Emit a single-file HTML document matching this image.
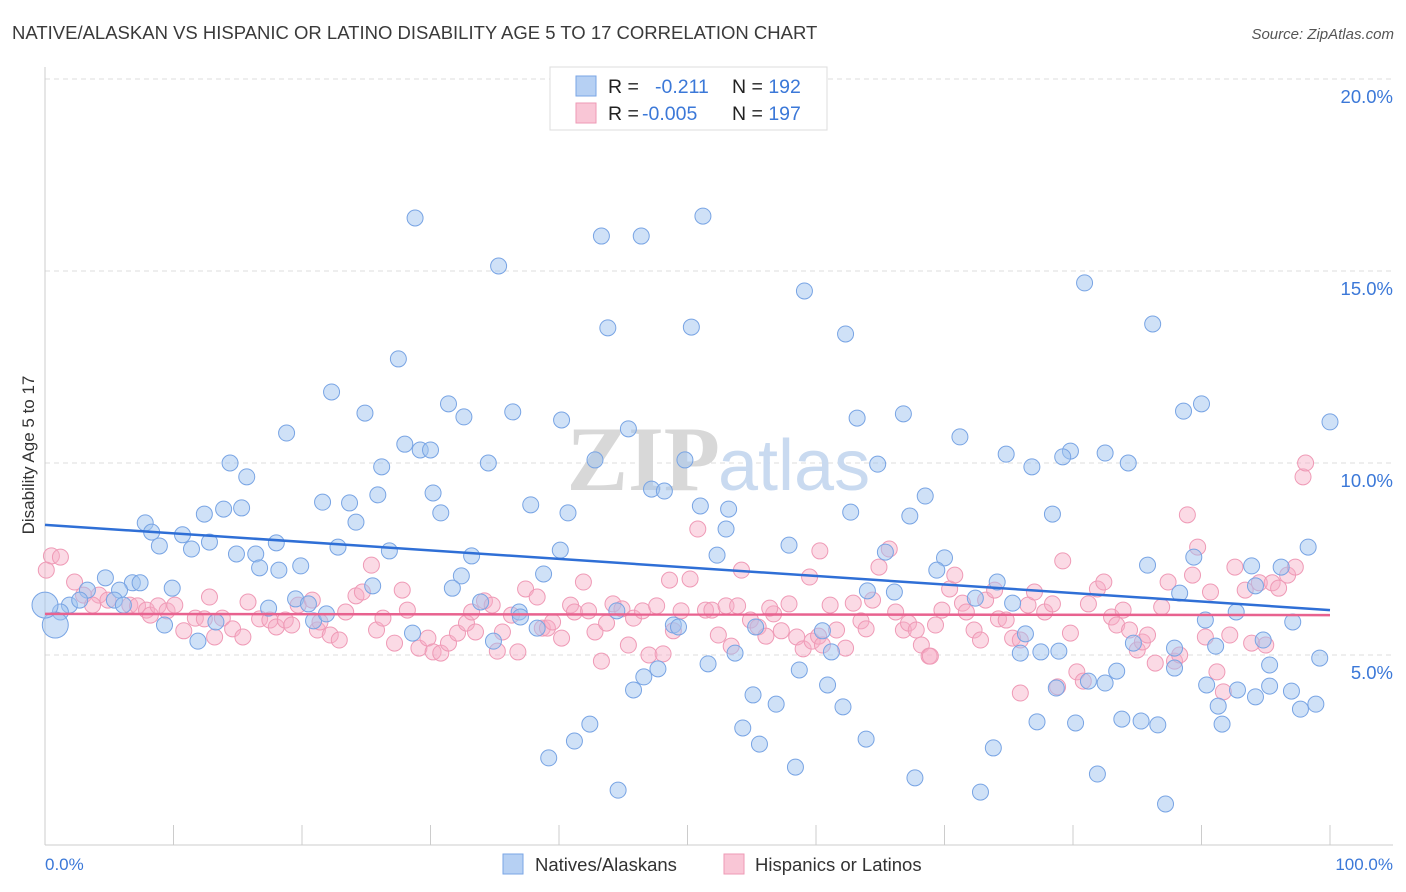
<!DOCTYPE html>
<html><head><meta charset="utf-8"><style>
body{margin:0;background:#fff;font-family:"Liberation Sans",sans-serif;}
svg{display:block}
</style></head><body>
<svg id="chart" width="1406" height="892">
<text x="12" y="39" font-size="18.5" fill="#3a3a3a">NATIVE/ALASKAN VS HISPANIC OR LATINO DISABILITY AGE 5 TO 17 CORRELATION CHART</text>
<text x="1394" y="39" font-size="15" fill="#555" font-style="italic" text-anchor="end">Source: ZipAtlas.com</text>
<g id="grid"></g>
<text x="720" y="490" font-size="92" fill="#d8d8d8" text-anchor="end" font-family="Liberation Serif,serif" font-weight="bold">ZIP</text>
<text x="718" y="490" font-size="72" fill="#c9daf0">atlas</text>
<line x1="45" y1="67" x2="45" y2="845" stroke="#ccc"/>
<line x1="45" y1="845" x2="1393" y2="845" stroke="#ccc"/>
<g id="ticks"></g>
<g id="pink"></g>
<g id="blue"></g>
<g id="trends"></g>
<text x="34" y="455" font-size="17" fill="#333" text-anchor="middle" transform="rotate(-90 34 455)">Disability Age 5 to 17</text>
<text x="45" y="870" font-size="17" fill="#3b78d8">0.0%</text>
<text x="1393" y="870" font-size="17" fill="#3b78d8" text-anchor="end">100.0%</text>
<g>
<rect x="550" y="67" width="277" height="63" fill="#fff" stroke="#ddd"/>
<rect x="576" y="76" width="20" height="20" fill="#b6d0f3" stroke="#7aa6e6"/>
<rect x="576" y="103" width="20" height="20" fill="#f9c6d6" stroke="#ee9ab5"/>
<text x="608" y="93" font-size="19.5" fill="#222">R = <tspan x="655" fill="#3b78d8">-0.211</tspan><tspan x="732" fill="#222">N = </tspan><tspan fill="#3b78d8">192</tspan></text>
<text x="608" y="120" font-size="19.5" fill="#222">R = <tspan x="642" fill="#3b78d8">-0.005</tspan><tspan x="732" fill="#222">N = </tspan><tspan fill="#3b78d8">197</tspan></text>
</g>
<g>
<rect x="503" y="854" width="20" height="20" fill="#b6d0f3" stroke="#7aa6e6"/>
<text x="535" y="871" font-size="18.5" fill="#333">Natives/Alaskans</text>
<rect x="724" y="854" width="20" height="20" fill="#f9c6d6" stroke="#ee9ab5"/>
<text x="755" y="871" font-size="18.5" fill="#333">Hispanics or Latinos</text>
</g>
</svg>
<script>
const yTicks=[5,10,15,20];
const yTickLabels=["5.0%","10.0%","15.0%","20.0%"];
const xTicks=[0,10,20,30,40,50,60,70,80,90,100];
const blueX=[28.8,51.2,43.3,46.4,35.3,59.1,80.9,43.8,50.3,62.3,86.2,27.5,22.3,31.4,24.9,32.6,36.4,40.2,63.2,66.8,90.0,88.6,100,18.8,45.4,28.0,29.2,30.0,71.2,74.8,79.8,82.5,76.8,84.3,79.2,42.8,49.8,34.5,14.4,26.2,15.7,64.8,30.2,47.2,48.2,25.9,21.6,23.7,37.8,51.0,53.2,68.5,13.9,15.3,12.4,30.8,40.7,62.7,67.3,78.4,24.2,7.8,8.3,10.7,12.8,8.9,11.4,53.0,22.8,26.8,18.0,14.9,16.4,33.2,40.1,52.3,57.9,65.4,70.0,89.4,98.3,85.8,93.9,96.2,16.7,18.2,19.9,69.4,32.4,38.8,4.7,6.8,7.4,5.8,9.9,25.5,31.7,64.0,66.1,72.4,74.1,75.3,88.3,94.2,3.3,1.9,1.2,2.7,0.8,0.0,5.4,6.1,17.4,19.5,20.5,33.9,36.9,37.0,44.5,92.7,90.3,97.1,9.3,13.3,20.9,21.9,38.3,48.9,49.3,55.3,60.5,76.3,11.9,28.6,34.9,78.9,84.7,87.9,91.1,94.8,99.2,53.7,61.2,77.5,75.9,95.3,87.9,47.7,51.6,58.7,46.6,83.4,82.5,90.4,92.8,95.3,97.0,78.7,81.2,45.8,60.9,55.1,56.9,62.1,91.3,94.2,97.7,98.9,42.4,54.3,77.2,80.2,83.8,85.3,86.6,91.6,41.2,55.6,63.9,73.8,39.2,58.4,81.9,67.7,44.6,72.8,87.2];
const blueY=[16.38,16.43,15.91,15.91,15.13,14.48,14.69,13.52,13.54,13.36,13.62,12.71,11.85,11.54,11.30,11.20,11.33,11.12,11.17,11.28,11.54,11.35,11.07,10.78,10.89,10.49,10.34,10.34,10.68,10.23,10.31,10.26,9.90,10.00,10.16,10.08,10.08,10.00,10.00,9.90,9.64,9.97,9.22,9.32,9.27,9.17,8.98,8.96,8.91,8.88,8.80,9.14,8.80,8.83,8.67,8.70,8.70,8.72,8.62,8.67,8.46,8.44,8.20,8.13,7.94,7.84,7.76,8.28,7.81,7.71,7.92,7.63,7.63,7.58,7.73,7.60,7.86,7.68,7.53,7.55,7.81,7.34,7.32,7.29,7.27,7.21,7.32,7.21,7.06,7.11,7.01,6.88,6.88,6.69,6.74,6.80,6.74,6.67,6.64,6.48,6.90,6.35,6.61,6.80,6.69,6.30,6.12,6.43,5.78,6.30,6.43,6.30,6.22,6.46,6.33,6.38,6.12,5.99,6.15,6.12,5.91,5.86,5.78,5.86,5.89,6.07,5.70,5.78,5.73,5.73,5.63,5.55,5.36,5.57,5.36,5.10,5.31,5.18,5.23,5.39,4.92,5.05,5.08,5.08,5.05,4.74,4.66,4.64,4.77,4.61,4.43,4.58,4.27,4.22,4.09,4.19,4.06,4.14,4.32,4.09,4.22,3.96,3.72,3.65,3.67,3.91,3.59,3.72,3.20,3.10,3.26,3.23,3.33,3.28,3.18,3.20,2.76,2.68,2.81,2.58,2.32,2.08,1.90,1.80,1.48,1.43,1.12];
const pinkX=[0.5,1.2,0.1,2.3,3.0,4.2,3.7,4.9,6.6,7.2,7.9,8.2,8.8,9.5,10.1,10.8,11.7,12.4,12.8,13.2,13.8,14.6,15.4,15.8,16.7,17.5,18.0,18.7,19.2,19.7,20.8,21.2,21.4,22.2,22.9,23.4,24.2,24.7,25.4,25.8,26.3,27.2,27.8,28.2,29.1,29.8,30.2,30.8,31.4,32.1,32.8,33.2,33.5,34.2,34.8,35.2,35.6,36.3,36.8,37.4,38.3,38.7,39.1,39.5,40.2,40.9,41.2,41.9,42.3,42.8,43.3,43.7,44.2,44.9,45.4,45.8,46.5,47.0,47.6,48.1,48.6,48.9,49.5,50.2,50.8,51.4,51.9,52.4,53.0,53.4,53.9,54.2,54.9,55.5,56.1,56.7,57.3,57.9,58.5,59.0,59.7,60.2,60.5,61.1,61.6,62.3,62.9,63.5,63.9,64.4,64.9,65.7,66.2,66.8,67.2,67.8,68.2,68.8,69.3,69.8,70.4,70.8,71.4,71.7,72.3,72.8,73.2,73.9,74.2,74.8,75.3,75.9,76.5,77.0,77.8,78.4,78.8,79.2,79.8,80.3,80.8,81.2,81.9,82.4,83.0,83.4,83.9,84.4,85.0,85.4,85.8,86.4,86.9,87.4,87.9,88.3,88.9,89.3,89.7,90.3,90.7,91.2,91.7,92.2,92.6,93.4,93.9,94.5,95.0,95.5,96.0,96.7,97.3,97.9,98.1,75.9,68.9,60.3,59.5,56.4];
const pinkY=[7.58,7.55,7.21,6.90,6.56,6.56,6.30,6.43,6.30,6.28,6.17,6.04,6.28,6.15,6.30,5.63,5.96,5.94,6.51,5.47,5.96,5.68,5.47,6.38,5.94,5.91,5.73,5.91,5.78,6.30,6.43,5.65,5.86,5.52,5.39,6.12,6.54,6.64,7.34,5.65,5.96,5.31,6.69,6.17,5.18,5.44,5.08,5.05,5.31,5.57,5.83,6.12,5.60,6.41,6.30,5.10,5.60,6.04,5.08,6.72,6.51,5.70,5.70,5.86,5.44,6.30,6.12,6.90,6.15,5.60,4.84,5.83,6.33,6.20,5.26,5.96,6.15,5.00,6.28,5.03,6.95,5.63,6.15,6.98,8.28,6.17,6.17,5.52,6.28,5.23,6.28,7.21,5.91,5.73,5.49,6.07,5.63,6.33,5.47,5.16,5.36,5.49,5.26,6.30,5.65,5.18,6.35,5.89,5.68,6.43,7.29,7.76,6.12,5.65,5.83,5.65,5.26,4.97,5.78,6.17,6.72,7.08,6.35,6.12,5.65,5.39,6.43,6.69,5.94,5.91,5.44,5.39,6.30,6.64,6.12,6.33,4.17,7.45,5.57,4.56,4.32,6.33,6.72,6.90,5.99,5.78,6.17,5.65,5.13,5.34,5.52,4.79,6.25,6.90,4.84,5.00,8.65,7.08,7.81,5.47,6.64,4.56,4.04,5.52,7.29,6.69,5.31,6.88,5.26,6.88,6.74,7.08,7.29,9.64,10.00,4.01,4.97,7.71,7.03,6.22];
const trendBlue=[8.39,6.17];
const trendPink=[6.07,6.04];

const NS="http://www.w3.org/2000/svg";
function sx(v){return 45+v*12.85;}
function sy(v){return 847-v*38.4;}
function mk(tag,attrs,parent){const e=document.createElementNS(NS,tag);for(const k in attrs)e.setAttribute(k,attrs[k]);parent.appendChild(e);return e;}
const grid=document.getElementById('grid');
yTicks.forEach((t,i)=>{
  const l=mk('line',{x1:45,x2:1393,y1:sy(t),y2:sy(t),stroke:'#ddd','stroke-dasharray':'5,4'},grid);
  
  
  const tx=mk('text',{x:1393,y:sy(t)+24,'font-size':18.5,fill:'#3b78d8','text-anchor':'end'},grid);
  tx.textContent=yTickLabels[i];
  
  
});
const ticks=document.getElementById('ticks');
xTicks.forEach(t=>{
  const l=mk('line',{x1:sx(t),x2:sx(t),y1:825,y2:845,stroke:'#ccc'},ticks);
  
  
});
const pink=document.getElementById('pink');
pinkX.forEach((x,i)=>{
  const c=mk('circle',{cx:sx(x),cy:sy(pinkY[i]),r:8,fill:'rgba(246,172,198,0.45)',stroke:'#ef9ab6','stroke-width':1},pink);
  
  
});
const blue=document.getElementById('blue');
blueX.forEach((x,i)=>{
  const big=(i===108||i===109);
  const c=mk('circle',{cx:sx(x),cy:sy(blueY[i]),r:big?13:8,fill:'rgba(160,196,240,0.5)',stroke:'#78a4e4','stroke-width':1},blue);
  
  
});
const tr=document.getElementById('trends');
const lb=mk('line',{x1:sx(0),y1:sy(trendBlue[0]),x2:sx(100),y2:sy(trendBlue[1]),stroke:'#2f6fd6','stroke-width':2.5},tr);


const lp=mk('line',{x1:sx(0),y1:sy(trendPink[0]),x2:sx(100),y2:sy(trendPink[1]),stroke:'#e8628f','stroke-width':2.5},tr);


</script>
</body></html>
